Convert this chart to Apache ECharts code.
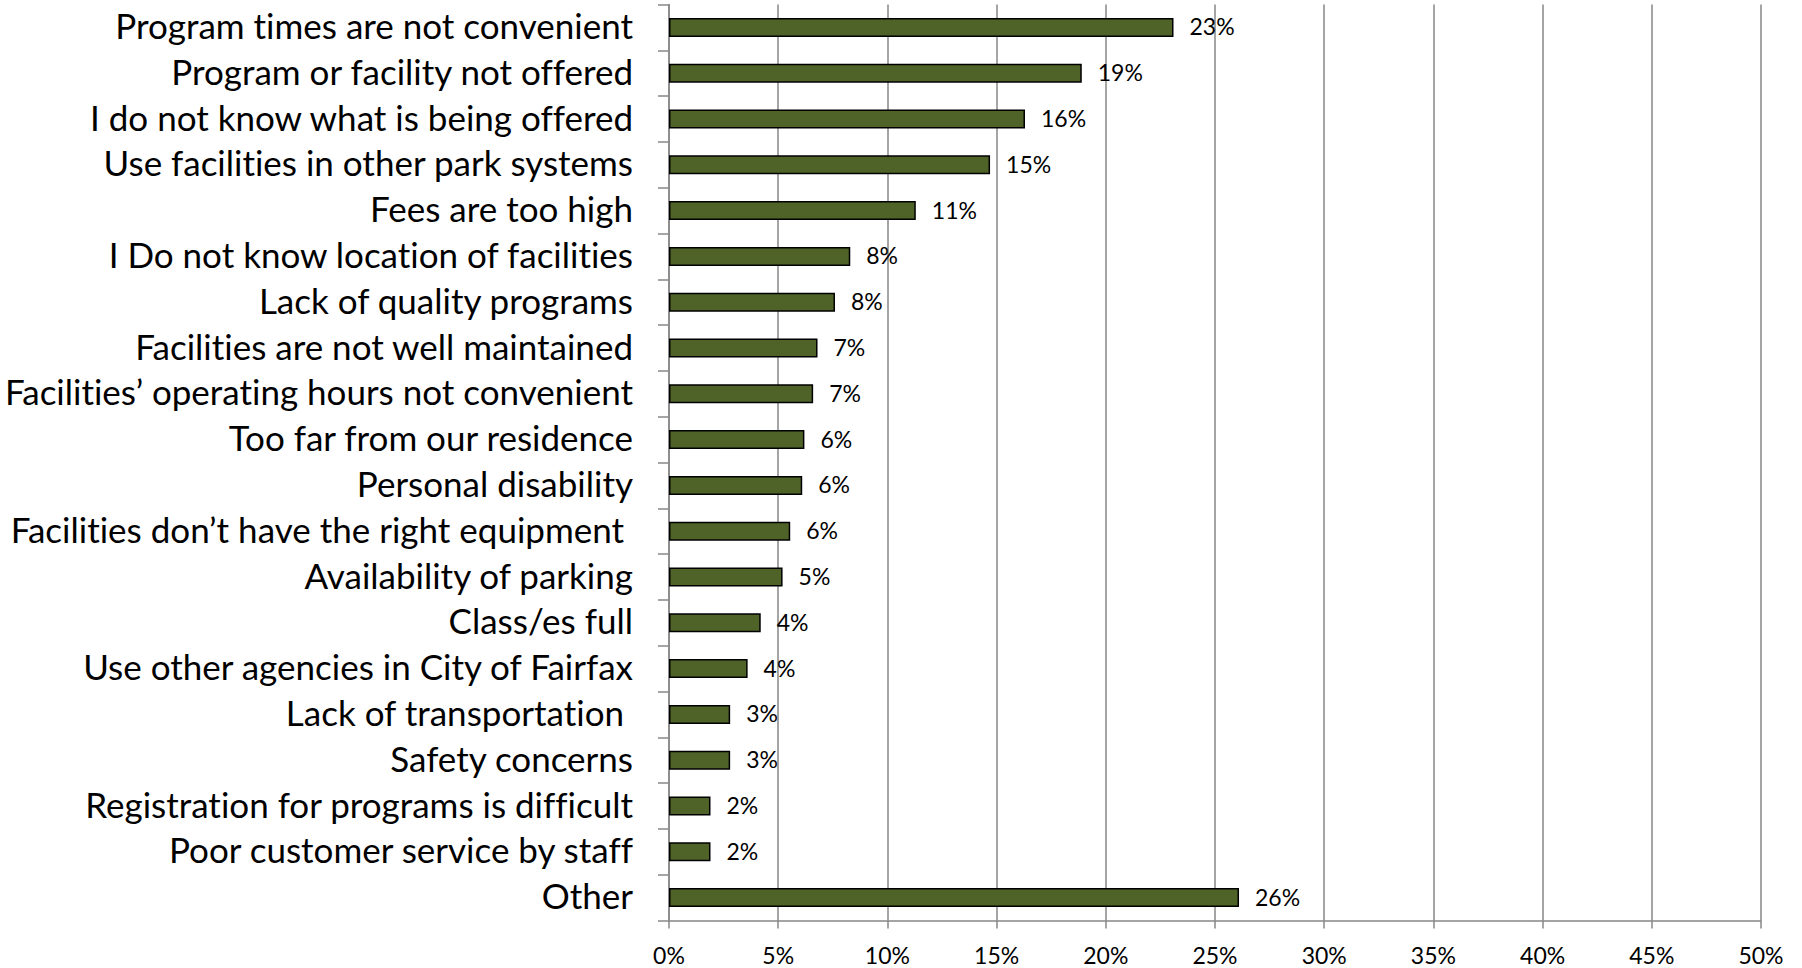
<!DOCTYPE html>
<html>
<head>
<meta charset="utf-8">
<title>Reasons for not using parks and recreation programs</title>
<script src="https://cdn.jsdelivr.net/npm/echarts@6/dist/echarts.min.js"></script>
<style>
  html, body { margin: 0; padding: 0; background: #ffffff; }
  #chart { width: 1802px; height: 968px; }
  /* plain "t i" letter pairs, no joined glyphs */
  #chart text { font-variant-ligatures: none; font-feature-settings: "liga" 0, "clig" 0; }
</style>
</head>
<body>
<div id="chart"></div>
<script>
// Survey reasons, listed top to bottom
const categories = [
  'Program times are not convenient',
  'Program or facility not offered',
  'I do not know what is being offered',
  'Use facilities in other park systems',
  'Fees are too high',
  'I Do not know location of facilities',
  'Lack of quality programs',
  'Facilities are not well maintained',
  'Facilities\u2019 operating hours not convenient',
  'Too far from our residence',
  'Personal disability',
  'Facilities don\u2019t have the right equipment ',
  'Availability of parking',
  'Class/es full',
  'Use other agencies in City of Fairfax',
  'Lack of transportation ',
  'Safety concerns',
  'Registration for programs is difficult',
  'Poor customer service by staff',
  'Other'
];

// Share of respondents, in percent
const shares = [23.1, 18.9, 16.3, 14.7, 11.3, 8.3, 7.6, 6.8, 6.6, 6.2, 6.1, 5.55, 5.2, 4.2, 3.6, 2.8, 2.8, 1.9, 1.9, 26.1];

// Value axis ticks
const axisMin = 0;
const axisMax = 50;
const axisStep = 5;

const FONT = 'Lato, "Open Sans", sans-serif';
const GRID_GRAY = '#878787';

const chart = echarts.init(document.getElementById('chart'), null, { renderer: 'svg' });

chart.setOption({
  animation: false,
  backgroundColor: '#ffffff',
  grid: { left: 669, right: 41, top: 4.5, bottom: 47.5, containLabel: false },
  xAxis: {
    type: 'value',
    min: axisMin,
    max: axisMax,
    interval: axisStep,
    axisLine: { show: true, lineStyle: { color: GRID_GRAY, width: 1.5 } },
    axisTick: { show: true, length: 8, lineStyle: { color: GRID_GRAY, width: 1.5 } },
    axisLabel: {
      formatter: '{value}%',
      color: '#000000',
      fontFamily: FONT,
      fontSize: 23,
      margin: 23
    },
    splitLine: { show: true, lineStyle: { color: GRID_GRAY, width: 1.5 } }
  },
  yAxis: {
    type: 'category',
    data: categories,
    inverse: true,
    axisLine: { show: true, lineStyle: { color: GRID_GRAY, width: 1.5 } },
    axisTick: { show: true, length: 11, alignWithLabel: false, lineStyle: { color: GRID_GRAY, width: 1.5 } },
    axisLabel: {
      margin: 36,
      formatter: v => '{c|' + v + '}',
      rich: {
        c: {
          color: '#000000',
          fontFamily: FONT,
          fontSize: 35,
          padding: [0, 0, 5, 0]
        }
      }
    },
    splitLine: { show: false }
  },
  series: [{
    type: 'bar',
    data: shares,
    barWidth: 19,
    itemStyle: {
      color: '#4F6228',
      borderColor: '#000000',
      borderWidth: 1.5
    },
    label: {
      show: true,
      position: 'right',
      distance: 16,
      formatter: p => '{v|' + Math.round(p.value) + '%}',
      rich: {
        v: {
          color: '#000000',
          fontFamily: FONT,
          fontSize: 23,
          padding: [0, 0, 2, 0]
        }
      }
    }
  }]
});
</script>
</body>
</html>
